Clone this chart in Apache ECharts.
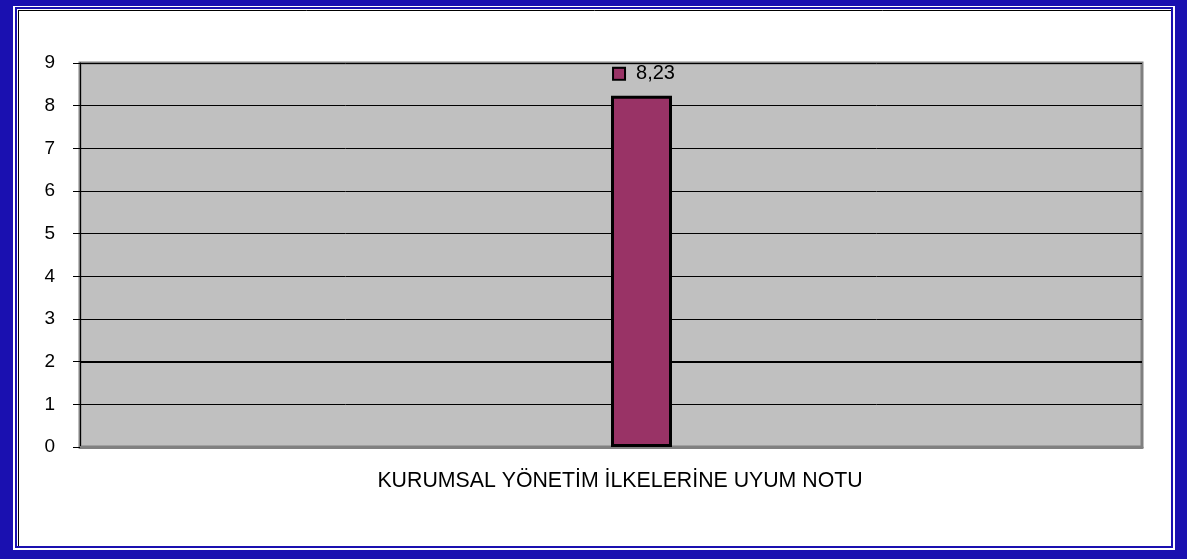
<!DOCTYPE html>
<html>
<head>
<meta charset="utf-8">
<script src="https://cdn.jsdelivr.net/npm/echarts@6/dist/echarts.min.js"></script>
<style>
  html,body{margin:0;padding:0;background:#fff;}
  #chart{width:1187px;height:559px;}
</style>
</head>
<body>
<div id="chart"></div>
<script>
// veri
var categories = ['KURUMSAL YÖNETİM İLKELERİNE UYUM NOTU'];
var emptyValues = ['-'];          // Excel'deki boş ilk seri (çubuğu sağa kaydırır)
var scoreValues = [8.23];
var yTicks = [0, 1, 2, 3, 4, 5, 6, 7, 8, 9];

var BLUE = '#1A10B0';
var FONT = '"Liberation Sans", Arial, sans-serif';

var myChart = echarts.init(document.getElementById('chart'));
var option = {
	backgroundColor: '#fff',
	animation: false,
	textStyle: { fontFamily: FONT },
	// çerçeve
	graphic: [
		{ type: 'rect', z: -10, shape: { x: 0, y: 0, width: 1187, height: 559 }, style: { fill: BLUE } },
		{ type: 'rect', z: -9, shape: { x: 13, y: 6, width: 1162, height: 544 }, style: { fill: '#fff' } },
		{ type: 'rect', z: -8, shape: { x: 15, y: 7, width: 1158, height: 541 }, style: { fill: BLUE } },
		{ type: 'rect', z: -7, shape: { x: 17, y: 9, width: 1154, height: 537 }, style: { fill: '#fff' } },
		{ type: 'line', z: -6, shape: { x1: 18, y1: 10.5, x2: 1171, y2: 10.5 }, style: { stroke: '#000', lineWidth: 1 } },
		{ type: 'line', z: -6, shape: { x1: 18.5, y1: 10, x2: 18.5, y2: 546 }, style: { stroke: '#000', lineWidth: 1 } }
	],
	grid: {
		left: 80,
		right: 45,
		top: 63,
		bottom: 112,
		show: true,
		backgroundColor: '#C0C0C0',
		borderColor: '#808080',
		borderWidth: 3
	},
	xAxis: {
		type: 'category',
		data: categories,
		axisLine: { lineStyle: { color: '#808080', width: 3 } },
		axisTick: { show: false },
		axisLabel: { color: '#000', fontSize: 21.3, margin: 24, padding: [0, 0, 0, 18], fontFamily: FONT }
	},
	yAxis: {
		type: 'value',
		min: yTicks[0],
		max: yTicks[yTicks.length - 1],
		interval: 1,
		axisLine: { show: true, lineStyle: { color: '#000', width: 1 } },
		axisTick: { show: true, length: 7, lineStyle: { color: '#000' } },
		axisLabel: { color: '#000', fontSize: 19, margin: 25, fontFamily: FONT },
		splitLine: { show: true, lineStyle: { color: '#000', width: 1 } }
	},
	series: [
		{
			name: 'bos',
			type: 'bar',
			z: 1,
			data: emptyValues,
			barWidth: 61,
			barGap: 0,
			markLine: {
				z: 1,
				silent: true,
				symbol: 'none',
				label: { show: false },
				lineStyle: { color: '#000', width: 2, type: 'solid' },
				data: [{ yAxis: yTicks[2] }]
			}
		},
		{
			name: 'not',
			type: 'bar',
			z: 6,
			data: scoreValues,
			barWidth: 61,
			barGap: 0,
			itemStyle: { color: '#993366', borderColor: '#000', borderWidth: 3 },
			label: {
				show: true,
				position: 'top',
				distance: 12,
				offset: [3, 0],
				formatter: function (p) {
					return '{box|}{v|' + String(p.value).replace('.', ',') + '}';
				},
				rich: {
					box: { width: 10, height: 10, backgroundColor: '#993366', borderColor: '#000', borderWidth: 2 },
					v: { fontSize: 20, color: '#000', padding: [0, 0, 0, 12], fontFamily: FONT }
				}
			}
		}
	]
};
myChart.setOption(option);
</script>
</body>
</html>
